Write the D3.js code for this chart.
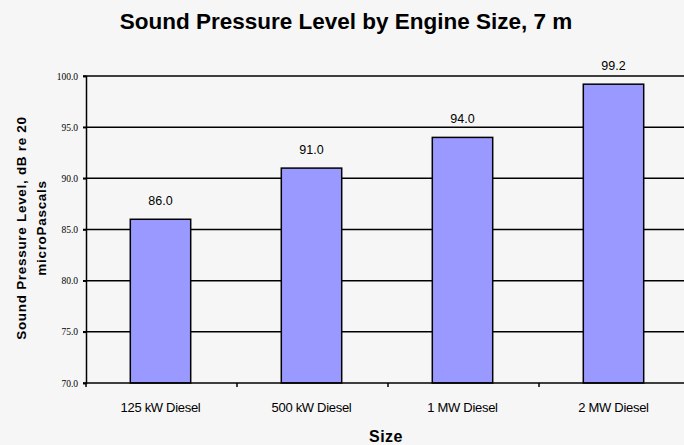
<!DOCTYPE html>
<html><head><meta charset="utf-8">
<script src="https://cdn.jsdelivr.net/npm/d3@7"></script>
<style>body{margin:0;background:#f6f6f6;}svg{display:block;}</style>
</head><body>
<script>
const categories = ["125 kW Diesel", "500 kW Diesel", "1 MW Diesel", "2 MW Diesel"];
const values = [86.0, 91.0, 94.0, 99.2];
const yTicks = [70, 75, 80, 85, 90, 95, 100];
const title = "Sound Pressure Level by Engine Size, 7 m";
const xTitle = "Size";
const yTitle = ["Sound Pressure Level, dB re 20", "microPascals"];

const W = 684, H = 445;
const m = {left: 86, top: 76, right: -6, bottom: 62};
const svg = d3.select("body").append("svg").attr("width", W).attr("height", H);
svg.append("rect").attr("width", W).attr("height", H).attr("fill", "#f6f6f6");

const x = d3.scaleBand().domain(categories).range([m.left, W - m.right]).paddingInner(0.6).paddingOuter(0.3);
const xb = d3.scaleBand().domain(categories).range([m.left, W - m.right]);
const y = d3.scaleLinear().domain([70, 100]).range([H - m.bottom, m.top]);

// gridlines
svg.append("g").selectAll("line").data(yTicks.filter(d => d > 70)).join("line")
  .attr("x1", m.left - 3).attr("x2", W).attr("y1", d => y(d)).attr("y2", d => y(d))
  .attr("stroke", "#000").attr("stroke-width", 1.5);

// y axis
const ya = svg.append("g").attr("transform", `translate(${m.left},0)`)
  .call(d3.axisLeft(y).tickValues(yTicks).tickSize(3).tickFormat(d3.format(".1f")));
ya.select(".domain").attr("stroke-width", 1.5);
ya.selectAll(".tick line").attr("stroke-width", 1.5);
ya.selectAll("text").attr("font-family", "Liberation Serif, Times New Roman, serif").attr("font-size", 9.5)
  .attr("fill", "#000").attr("x", -8);

// bars
svg.append("g").selectAll("rect").data(values).join("rect")
  .attr("x", (d, i) => x(categories[i]) - 1).attr("width", x.bandwidth())
  .attr("y", d => y(d)).attr("height", d => y(70) - y(d))
  .attr("fill", "#9999ff").attr("stroke", "#000").attr("stroke-width", 1.5);

// value labels
svg.append("g").selectAll("text").data(values).join("text")
  .attr("x", (d, i) => x(categories[i]) + x.bandwidth() / 2 - 1).attr("y", d => y(d) - 14)
  .attr("text-anchor", "middle").attr("font-family", "Liberation Sans, Arial, sans-serif")
  .attr("font-size", 12.5).attr("fill", "#000").text(d => d3.format(".1f")(d));

// x axis
const xa = svg.append("g").attr("transform", `translate(0,${y(70)})`);
xa.append("line").attr("x1", m.left - 3).attr("x2", W).attr("stroke", "#000").attr("stroke-width", 1.5);
xa.selectAll("line.tk").data(categories).join("line").attr("class", "tk")
  .attr("x1", d => xb(d)).attr("x2", d => xb(d)).attr("y1", 0).attr("y2", 4)
  .attr("stroke", "#000").attr("stroke-width", 1.5);
xa.selectAll("text").data(categories).join("text")
  .attr("x", d => x(d) + x.bandwidth() / 2 - 1).attr("y", 29)
  .attr("text-anchor", "middle").attr("font-family", "Liberation Sans, Arial, sans-serif")
  .attr("font-size", 13).attr("letter-spacing", -0.3).attr("fill", "#000").text(d => d);

// titles
svg.append("text").attr("x", 346).attr("y", 29).attr("text-anchor", "middle")
  .attr("font-family", "Liberation Sans, Arial, sans-serif").attr("font-weight", "bold")
  .attr("font-size", 22.5).text(title);
svg.append("text").attr("x", 386).attr("y", 442).attr("text-anchor", "middle")
  .attr("font-family", "Liberation Sans, Arial, sans-serif").attr("font-weight", "bold")
  .attr("font-size", 16).attr("letter-spacing", 0.5).text(xTitle);
const yt = svg.append("text").attr("transform", "translate(26,228) rotate(-90)")
  .attr("text-anchor", "middle").attr("font-family", "Liberation Sans, Arial, sans-serif")
  .attr("font-weight", "bold").attr("font-size", 13.5).attr("letter-spacing", 0.7);
yTitle.forEach((t, i) => yt.append("tspan").attr("x", 0).attr("dy", i ? 20 : 0).text(t));
</script>
</body></html>
